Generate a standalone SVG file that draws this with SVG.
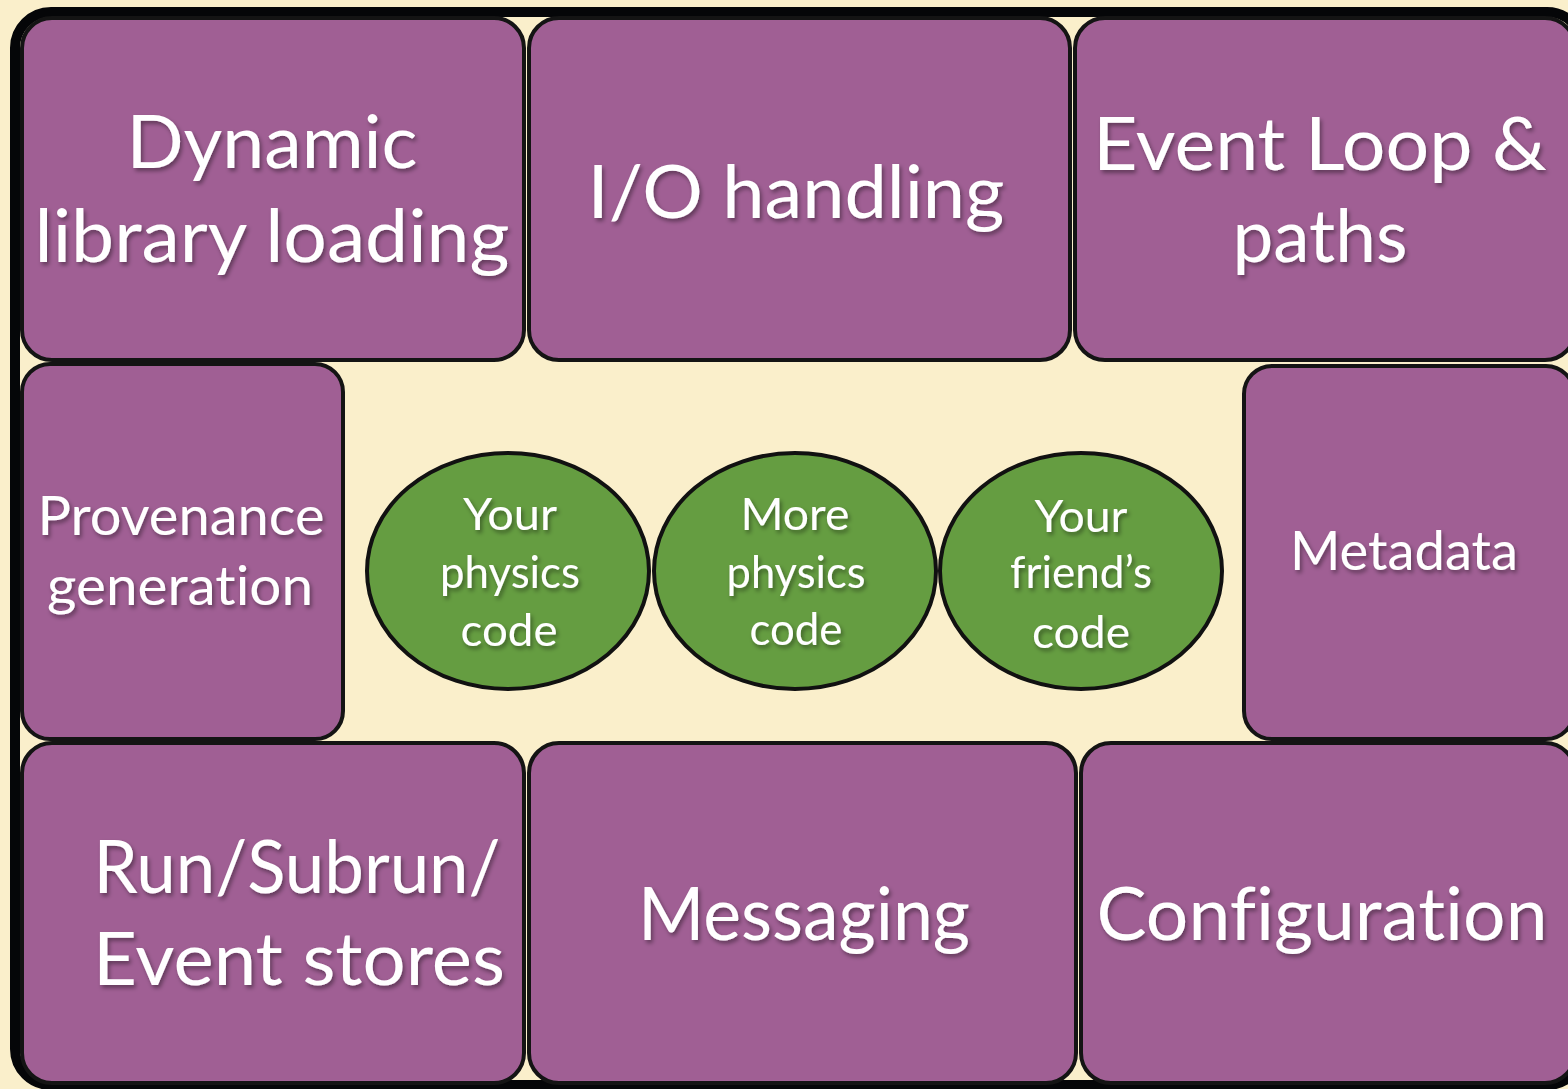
<svg xmlns="http://www.w3.org/2000/svg" width="1568" height="1089" viewBox="0 0 1568 1089">
<defs>
<filter id="sh" x="-10%" y="-30%" width="120%" height="160%">
<feDropShadow dx="2" dy="3" stdDeviation="2" flood-color="#000" flood-opacity="0.4"/>
</filter>
<style>
.box{fill:#A05F94;stroke:#141414;stroke-width:4}
.ell{fill:#659D41;stroke:#111;stroke-width:4}
.t{fill:#ffffff;font-family:Lato,"Open Sans","Liberation Sans",sans-serif;text-anchor:middle;filter:url(#sh);font-variant-ligatures:none}
.big{font-size:74px}
.mid{font-size:54px}
.sm{font-size:45px}
</style>
</defs>
<rect x="0" y="0" width="1568" height="1089" fill="#FAEFCB"/>
<rect x="15" y="12" width="1568" height="1073" rx="36" fill="#FAEFCB" stroke="#050608" stroke-width="10"/>
<g id="connectors"></g>
<g id="dynamic">
<rect class="box" x="22" y="18" width="502" height="342" rx="30"/>
<text class="t big" x="272" y="168" textLength="291" lengthAdjust="spacingAndGlyphs">Dynamic</text>
<text class="t big" x="272" y="262" textLength="475" lengthAdjust="spacingAndGlyphs">library loading</text>
</g>
<g id="io">
<rect class="box" x="529" y="18" width="541" height="342" rx="30"/>
<text class="t big" x="796" y="218" textLength="417" lengthAdjust="spacingAndGlyphs">I/O handling</text>
</g>
<g id="eventloop">
<rect class="box" x="1075" y="18" width="500" height="342" rx="30"/>
<text class="t big" x="1320" y="170" textLength="454" lengthAdjust="spacingAndGlyphs">Event Loop &amp;</text>
<text class="t big" x="1320" y="262" textLength="175" lengthAdjust="spacingAndGlyphs">paths</text>
</g>
<g id="provenance">
<rect class="box" x="22" y="364" width="321" height="375" rx="28"/>
<text class="t mid" x="181" y="535" textLength="287" lengthAdjust="spacingAndGlyphs">Provenance</text>
<text class="t mid" x="180" y="605" textLength="266" lengthAdjust="spacingAndGlyphs">generation</text>
</g>
<g id="metadata">
<rect class="box" x="1244" y="366" width="330" height="373" rx="28"/>
<text class="t mid" x="1404" y="570" textLength="228" lengthAdjust="spacingAndGlyphs">Metadata</text>
</g>
<g id="run">
<rect class="box" x="22" y="743" width="502" height="340" rx="30"/>
<text class="t big" x="297" y="893" textLength="407" lengthAdjust="spacingAndGlyphs">Run/Subrun/</text>
<text class="t big" x="299" y="985" textLength="412" lengthAdjust="spacingAndGlyphs">Event stores</text>
</g>
<g id="messaging">
<rect class="box" x="529" y="743" width="547" height="340" rx="30"/>
<text class="t big" x="804" y="940" textLength="332" lengthAdjust="spacingAndGlyphs">Messaging</text>
</g>
<g id="configuration">
<rect class="box" x="1081" y="743" width="494" height="340" rx="30"/>
<text class="t big" x="1322" y="940" textLength="451" lengthAdjust="spacingAndGlyphs">Configuration</text>
</g>
<g id="yourphysics">
<ellipse class="ell" cx="508" cy="571" rx="141" ry="118"/>
<text class="t sm" x="510" y="530" textLength="94" lengthAdjust="spacingAndGlyphs">Your</text>
<text class="t sm" x="510" y="588" textLength="140" lengthAdjust="spacingAndGlyphs">physics</text>
<text class="t sm" x="509" y="646" textLength="97" lengthAdjust="spacingAndGlyphs">code</text>
</g>
<g id="morephysics">
<ellipse class="ell" cx="795" cy="571" rx="141" ry="118"/>
<text class="t sm" x="795" y="530" textLength="109" lengthAdjust="spacingAndGlyphs">More</text>
<text class="t sm" x="796" y="588" textLength="139" lengthAdjust="spacingAndGlyphs">physics</text>
<text class="t sm" x="796" y="645" textLength="93" lengthAdjust="spacingAndGlyphs">code</text>
</g>
<g id="friends">
<ellipse class="ell" cx="1081" cy="571" rx="141" ry="118"/>
<text class="t sm" x="1081" y="532" textLength="93" lengthAdjust="spacingAndGlyphs">Your</text>
<text class="t sm" x="1081" y="588" textLength="142" lengthAdjust="spacingAndGlyphs">friend’s</text>
<text class="t sm" x="1081" y="648" textLength="98" lengthAdjust="spacingAndGlyphs">code</text>
</g>
</svg>
